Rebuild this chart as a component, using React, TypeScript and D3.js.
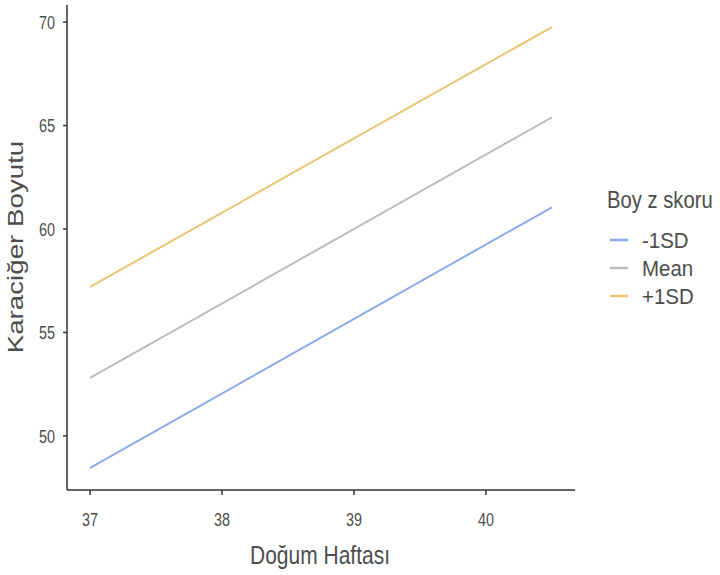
import React from "react";
import * as d3 from "d3";

const weeks = [37, 40.5];
const seriesNames = ["-1SD", "Mean", "+1SD"];
const minusSD = [48.45, 61.05];
const meanVals = [52.8, 65.4];
const plusSD = [57.2, 69.76];
const seriesColors = ["#8aacea", "#bdbdbd", "#e9c474"];
const xTicks = [37, 38, 39, 40];
const yTicks = [50, 55, 60, 65, 70];

const W = 720;
const H = 575;
const sans = "'Liberation Sans', Arial, sans-serif";
const textColor = "#4d4d4d";
const axisColor = "#333";

type LabelProps = {
  x: number;
  y: number;
  size: number;
  sx: number;
  anchor?: "start" | "middle" | "end";
  rotate?: number;
  dy?: string;
  children: React.ReactNode;
};

// Text drawn in a horizontally condensed (or stretched) form
function Label({ x, y, size, sx, anchor = "start", rotate = 0, dy, children }: LabelProps) {
  return (
    <text
      transform={`translate(${x},${y}) rotate(${rotate}) scale(${sx},1)`}
      textAnchor={anchor}
      dy={dy}
      fontFamily={sans}
      fontSize={size}
      fill={textColor}
    >
      {children}
    </text>
  );
}

export default function App() {
  const all = [minusSD, meanVals, plusSD];
  const ys = all.flat();
  const yMin = d3.min(ys)!;
  const yMax = d3.max(ys)!;
  const yPad = (yMax - yMin) * 0.05;
  const xPad = (weeks[1] - weeks[0]) * 0.05;

  const left = 67;
  const right = 575;
  const top = 5;
  const bottom = 490;

  const x = d3.scaleLinear().domain([weeks[0] - xPad, weeks[1] + xPad]).range([left, right]);
  const y = d3.scaleLinear().domain([yMin - yPad, yMax + yPad]).range([bottom, top]);

  const line = d3
    .line<[number, number]>()
    .x((d) => x(d[0]))
    .y((d) => y(d[1]));

  return (
    <svg width={W} height={H} style={{ position: "absolute", left: 0, top: 0, background: "#fff" }}>
      {all.map((vals, i) => (
        <path
          key={seriesNames[i]}
          d={line(weeks.map((w, j) => [w, vals[j]] as [number, number]))!}
          fill="none"
          stroke={seriesColors[i]}
          strokeWidth={2}
        />
      ))}

      {/* axes */}
      <line x1={left} x2={left} y1={top} y2={bottom} stroke={axisColor} strokeWidth={1.5} />
      <line x1={left} x2={right} y1={bottom} y2={bottom} stroke={axisColor} strokeWidth={1.5} />

      {yTicks.map((t) => (
        <g key={t}>
          <line x1={left - 4} x2={left} y1={y(t)} y2={y(t)} stroke={axisColor} strokeWidth={1.5} />
          <Label x={55} y={y(t)} dy="0.36em" size={19} sx={0.76} anchor="end">
            {t}
          </Label>
        </g>
      ))}

      {xTicks.map((t) => (
        <g key={t}>
          <line x1={x(t)} x2={x(t)} y1={bottom} y2={bottom + 5} stroke={axisColor} strokeWidth={1.5} />
          <Label x={x(t)} y={526} size={19} sx={0.76} anchor="middle">
            {t}
          </Label>
        </g>
      ))}

      <Label x={320} y={564} size={25} sx={0.84} anchor="middle">
        Doğum Haftası
      </Label>

      <Label x={23} y={247} size={22} sx={1.26} anchor="middle" rotate={-90}>
        Karaciğer Boyutu
      </Label>

      {/* legend */}
      <Label x={607} y={208} size={23} sx={0.88}>
        Boy z skoru
      </Label>
      {seriesNames.map((name, i) => {
        const cy = 240 + i * 28;
        return (
          <g key={name}>
            <line x1={610} x2={628} y1={cy} y2={cy} stroke={seriesColors[i]} strokeWidth={2.5} />
            <Label x={642} y={cy} dy="0.36em" size={22} sx={0.93}>
              {name}
            </Label>
          </g>
        );
      })}
    </svg>
  );
}
